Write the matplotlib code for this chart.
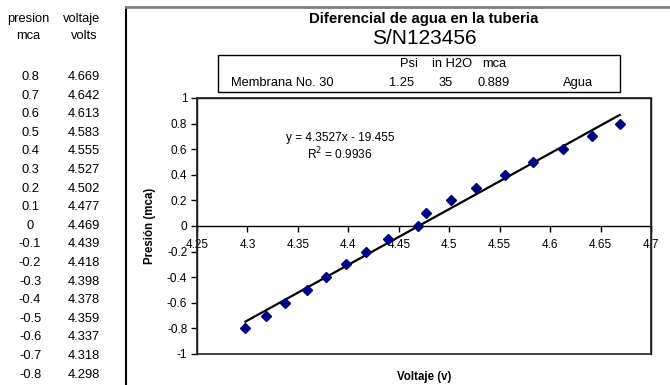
import matplotlib
matplotlib.use("Agg")
import matplotlib.pyplot as plt
from matplotlib.lines import Line2D
from matplotlib.patches import Rectangle

plt.rcParams['font.family'] = ['Liberation Sans', 'DejaVu Sans']

# ---- data ----
presion = [0.8, 0.7, 0.6, 0.5, 0.4, 0.3, 0.2, 0.1, 0, -0.1, -0.2, -0.3, -0.4, -0.5, -0.6, -0.7, -0.8]
voltaje = [4.669, 4.642, 4.613, 4.583, 4.555, 4.527, 4.502, 4.477, 4.469, 4.439,
           4.418, 4.398, 4.378, 4.359, 4.337, 4.318, 4.298]
presion_labels = ["0.8", "0.7", "0.6", "0.5", "0.4", "0.3", "0.2", "0.1", "0", "-0.1",
                  "-0.2", "-0.3", "-0.4", "-0.5", "-0.6", "-0.7", "-0.8"]
voltaje_labels = ["4.669", "4.642", "4.613", "4.583", "4.555", "4.527", "4.502", "4.477",
                  "4.469", "4.439", "4.418", "4.398", "4.378", "4.359", "4.337", "4.318", "4.298"]
slope = 4.3527
intercept = -19.455
r2 = 0.9936
x_ticks = [4.25, 4.3, 4.35, 4.4, 4.45, 4.5, 4.55, 4.6, 4.65, 4.7]
y_ticks = [-1, -0.8, -0.6, -0.4, -0.2, 0, 0.2, 0.4, 0.6, 0.8, 1]
info_header = ["Psi", "in H2O", "mca"]
info_values = ["1.25", "35", "0.889"]
info_name = "Membrana No. 30"
info_fluid = "Agua"

W, H = 670, 385
fig = plt.figure(figsize=(W / 100, H / 100), dpi=100)


def P(x, y):
    return (x / W, 1 - y / H)


def ftext(x, y, s, **kw):
    kw.setdefault('ha', 'center')
    kw.setdefault('va', 'center')
    fig.text(*P(x, y), s, **kw)


FS = 9.3

# ---- left table ----
ftext(28, 19, "presion", fontsize=FS)
ftext(28, 36, "mca", fontsize=FS)
ftext(82, 19, "voltaje", fontsize=FS)
ftext(84, 36, "volts", fontsize=FS)
row0, step = 77, 18.6
for i, (p, v) in enumerate(zip(presion_labels, voltaje_labels)):
    y = row0 + i * step
    ftext(30, y, p, fontsize=FS)
    ftext(84, y, v, fontsize=FS)

# ---- chart frame lines ----
fig.add_artist(Line2D([126 / W, 126 / W], [1 - 7 / H, 0], color='black', lw=1.5,
                      transform=fig.transFigure))
fig.add_artist(Line2D([126 / W, 1], [1 - 7 / H, 1 - 7 / H], color='#808080', lw=2,
                      transform=fig.transFigure))

# ---- titles ----
ftext(424, 18.5, "Diferencial de agua en la tuberia", fontsize=10.8, fontweight='bold')
ftext(424, 39, "S/N123456", fontsize=15)

# ---- info box ----
x0, y0, x1, y1 = 218, 55, 620, 92
fig.add_artist(Rectangle(P(x0, y1), (x1 - x0) / W, (y1 - y0) / H, fill=False,
                         edgecolor='black', lw=1, transform=fig.transFigure))
hdr_x = [409, 452, 494]
for hx, h in zip(hdr_x, info_header):
    ftext(hx, 64, h, fontsize=FS)
for hx, v in zip([402, 446, 494], info_values):
    ftext(hx, 83, v, fontsize=FS)
ftext(231, 83, info_name, fontsize=FS, ha='left')
ftext(578, 83, info_fluid, fontsize=FS)

# ---- plot ----
ax = fig.add_axes([197 / W, 1 - 354 / H, (651 - 197) / W, (354 - 98) / H])
ax.set_xlim(x_ticks[0], x_ticks[-1])
ax.set_ylim(y_ticks[0], y_ticks[-1])

xs = [min(voltaje), max(voltaje)]
ax.plot(xs, [slope * x + intercept for x in xs], color='black', lw=1.6, zorder=2)
ax.plot(voltaje, presion, linestyle='none', marker='D', markersize=4.8,
        color='#000080', zorder=3)

ax.spines['bottom'].set_position(('data', 0))
for s in ax.spines.values():
    s.set_linewidth(1)
    s.set_color('black')
ax.add_patch(Rectangle((0, 0), 1, 1, transform=ax.transAxes, fill=False,
                       edgecolor='#222222', lw=1.2, clip_on=False, zorder=5))

ax.set_xticks(x_ticks)
ax.set_xticklabels([f"{v:g}" for v in x_ticks])
ax.set_yticks(y_ticks)
ax.set_yticklabels([f"{v:g}" for v in y_ticks])
ax.tick_params(axis='both', direction='out', length=4, width=1, labelsize=8.5,
               colors='black')
ax.tick_params(axis='x', pad=5)
ax.tick_params(axis='y', pad=3)

ax.text(0.315, 0.845, f"y = {slope}x - {abs(intercept)}", transform=ax.transAxes,
        ha='center', va='center', fontsize=8.6)
ax.text(0.315, 0.78, f"R$^2$ = {r2}", transform=ax.transAxes,
        ha='center', va='center', fontsize=8.6)

ftext(150, 226, "Presión (mca)", fontsize=8.3, fontweight='bold', rotation=90)
ftext(424, 377, "Voltaje (v)", fontsize=8.3, fontweight='bold')

fig.savefig("out.png", dpi=100)
